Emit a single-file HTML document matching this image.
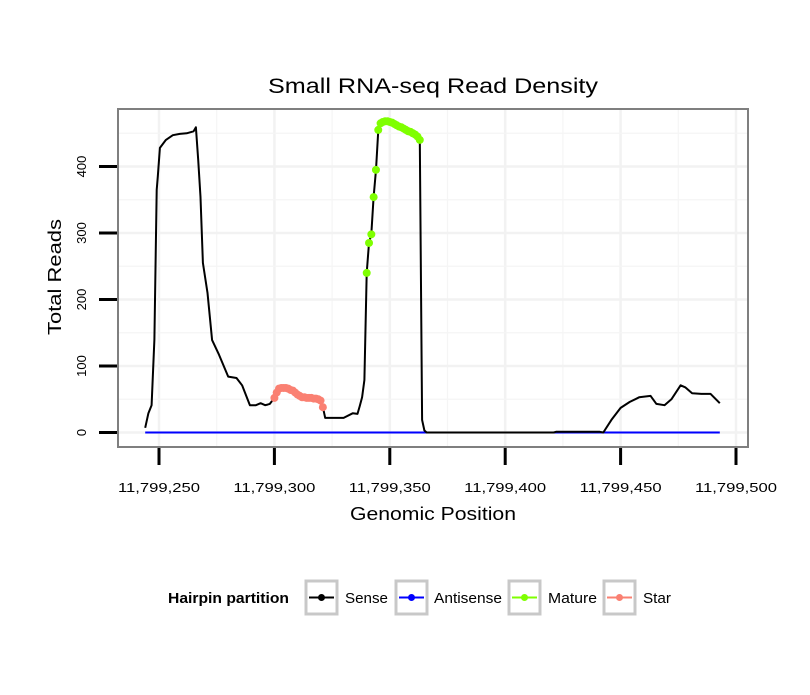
<!DOCTYPE html>
<html><head><meta charset="utf-8"><style>
body{margin:0;background:#fff;}
svg text{font-family:"Liberation Sans",sans-serif;}
</style></head><body>
<svg id="chart" width="810" height="690" xmlns="http://www.w3.org/2000/svg">
<rect width="810" height="690" fill="#fff"/>
<text x="268" y="93" font-size="21" textLength="330" lengthAdjust="spacingAndGlyphs">Small RNA-seq Read Density</text>
<g id="grid"></g>
<g id="series"></g>
<rect x="118" y="109" width="630" height="338" fill="none" stroke="#7f7f7f" stroke-width="2"/>
<g id="axes"></g>
<text x="350" y="520" font-size="18" textLength="166" lengthAdjust="spacingAndGlyphs">Genomic Position</text>
<text transform="translate(61,335) rotate(-90)" font-size="18" textLength="116" lengthAdjust="spacingAndGlyphs">Total Reads</text>
<g>
<text x="168" y="603" font-size="15" font-weight="bold" textLength="121" lengthAdjust="spacingAndGlyphs">Hairpin partition</text>
<g>
<rect x="306" y="581" width="31" height="33" fill="#fff" stroke="#c8c8c8" stroke-width="3"/>
<line x1="309" y1="597.5" x2="334" y2="597.5" stroke="#000" stroke-width="2"/><circle cx="321.5" cy="597.5" r="3.5" fill="#000"/>
<text x="345" y="603" font-size="15" textLength="43" lengthAdjust="spacingAndGlyphs">Sense</text></g>
<g>
<rect x="396" y="581" width="31" height="33" fill="#fff" stroke="#c8c8c8" stroke-width="3"/>
<line x1="399" y1="597.5" x2="424" y2="597.5" stroke="#0000ff" stroke-width="2"/><circle cx="411.5" cy="597.5" r="3.5" fill="#0000ff"/>
<text x="434" y="603" font-size="15" textLength="68" lengthAdjust="spacingAndGlyphs">Antisense</text></g>
<g>
<rect x="509" y="581" width="31" height="33" fill="#fff" stroke="#c8c8c8" stroke-width="3"/>
<line x1="512" y1="597.5" x2="537" y2="597.5" stroke="#7fff00" stroke-width="2"/><circle cx="524.5" cy="597.5" r="3.5" fill="#7fff00"/>
<text x="548" y="603" font-size="15" textLength="49" lengthAdjust="spacingAndGlyphs">Mature</text></g>
<g>
<rect x="604" y="581" width="31" height="33" fill="#fff" stroke="#c8c8c8" stroke-width="3"/>
<line x1="607" y1="597.5" x2="632" y2="597.5" stroke="#fa8072" stroke-width="2"/><circle cx="619.5" cy="597.5" r="3.5" fill="#fa8072"/>
<text x="643" y="603" font-size="15" textLength="28" lengthAdjust="spacingAndGlyphs">Star</text></g>
</g>
</svg>
<script>
const xTicks=[11799250,11799300,11799350,11799400,11799450,11799500];
const xTickLabels=["11,799,250","11,799,300","11,799,350","11,799,400","11,799,450","11,799,500"];
const yTicks=[0,100,200,300,400];
const senseX=[244,245.4,246.8,248,249,249.5,250.4,253,256,259,262,265,266,267,268,269,271,273,276,280,283.6,286,289.4,292,294,296,297,298,
300,301,302,303,304,305,306,307,308,309,310,311,312,313,314,315,316,317,318,319,320,321,
322,327,330,334,336,337,338,339,
340,341,342,343,344,345,346,347,348,349,350,351,352,353,354,355,356,357,358,359,360,361,362,363,
364,365,366,421,422,441,442.5,446,450,454,458,463,465.5,469,472,476,478,481,485,489,493];
const senseY=[7,29,41,140,365,385,428,440,447,449,450,453,459,410,354,255,210,139,117,84,82,71,41,41,44,41,42,43,
52,60,66,67,67,67,66,64,63,60,57,55,53,53,52,52,52,51,51,50,48,38,
22,22,22,29,28,40,53,79,
240,285,298,354,395,455,465,467,468,468,467,466,464,462,460,459,457,455,453,452,450,448,445,440,
19,3,0,0,1,1,0,19,37,46,53,55,43,41,50,71,68,59,58,58,44];
const antisenseX=[244,493];
const antisenseY=[0,0];
const starX=[300,301,302,303,304,305,306,307,308,309,310,311,312,313,314,315,316,317,318,319,320,321];
const starY=[52,60,66,67,67,67,66,64,63,60,57,55,53,53,52,52,52,51,51,50,48,38];
const matureX=[340,341,342,343,344,345,346,347,348,349,350,351,352,353,354,355,356,357,358,359,360,361,362,363];
const matureY=[240,285,298,354,395,455,465,467,468,468,467,466,464,462,460,459,457,455,453,452,450,448,445,440];

const NS="http://www.w3.org/2000/svg";
const X0=11799250;
function xs(v){return 159+(v-X0)*115.4/50;}
function ys(v){return 432.5-v*0.665;}
function rawX(p){return 159+(p-250)*115.4/50;}
function mk(tag,attrs,parent){const e=document.createElementNS(NS,tag);for(const k in attrs)e.setAttribute(k,attrs[k]);parent.appendChild(e);return e;}
const grid=document.getElementById('grid');
for(let i=0;i<xTicks.length;i++){
  const gx=xs(xTicks[i]);
  const l=mk('line',{x1:gx,x2:gx,y1:110,y2:446,stroke:'#f2f2f2','stroke-width':2.5},grid);
  
  
  const mx=xs(xTicks[i]-25);
  if(mx>119){const m=mk('line',{x1:mx,x2:mx,y1:110,y2:446,stroke:'#f5f5f5','stroke-width':1.2},grid);
  
  }
}
for(let i=0;i<yTicks.length;i++){
  const gy=ys(yTicks[i]);
  const l=mk('line',{x1:119,x2:747,y1:gy,y2:gy,stroke:'#f2f2f2','stroke-width':2.5},grid);
  
  
  const my=ys(yTicks[i]+50);
  const m=mk('line',{x1:119,x2:747,y1:my,y2:my,stroke:'#f5f5f5','stroke-width':1.2},grid);
  
  
}
const axes=document.getElementById('axes');
for(let i=0;i<xTicks.length;i++){
  const gx=xs(xTicks[i]);
  const t=mk('line',{x1:gx,x2:gx,y1:448,y2:465,stroke:'#000','stroke-width':3},axes);
  
  
  const tx=mk('text',{x:gx-41,y:492,'font-size':13,textLength:82,lengthAdjust:'spacingAndGlyphs'},axes);
  tx.textContent=xTickLabels[i];
  
  
}
for(let i=0;i<yTicks.length;i++){
  const gy=ys(yTicks[i]);
  const t=mk('line',{x1:99,x2:117,y1:gy,y2:gy,stroke:'#000','stroke-width':3},axes);
  
  
  const tx=mk('text',{transform:`translate(86,${gy}) rotate(-90)`,'font-size':13,'text-anchor':'middle'},axes);
  tx.textContent=String(yTicks[i]);
  
  
}
const ser=document.getElementById('series');
function path(xa,ya){return xa.map((p,i)=>(i?'L':'M')+rawX(p).toFixed(1)+','+ys(ya[i]).toFixed(1)).join('');}
const anti=mk('path',{d:path(antisenseX,antisenseY),fill:'none',stroke:'#0000ff','stroke-width':2},ser);


const sense=mk('path',{d:path(senseX,senseY),fill:'none',stroke:'#000','stroke-width':2,'stroke-linejoin':'round'},ser);


for(let i=0;i<starX.length;i++){
  const c=mk('circle',{cx:rawX(starX[i]),cy:ys(starY[i]),r:4,fill:'#fa8072'},ser);
  
  
}
for(let i=0;i<matureX.length;i++){
  const c=mk('circle',{cx:rawX(matureX[i]),cy:ys(matureY[i]),r:4,fill:'#7fff00'},ser);
  
  
}
</script>
</body></html>
